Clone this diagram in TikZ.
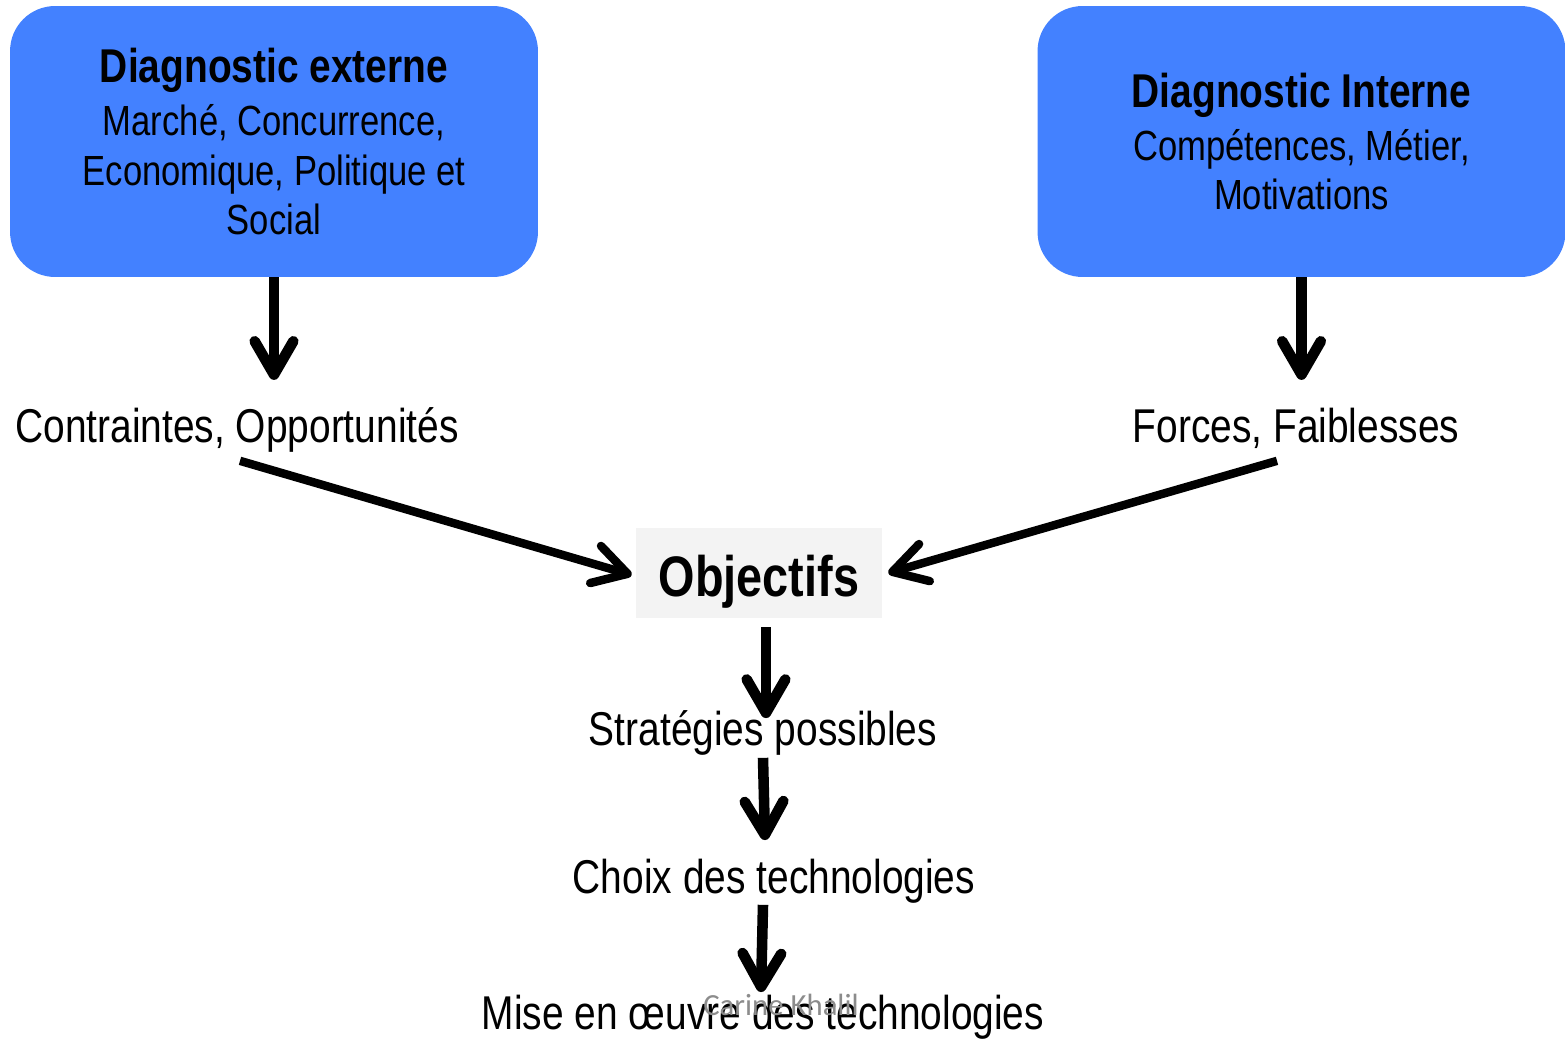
\documentclass[tikz,border=0pt]{standalone}
\usepackage{fontspec}
\setmainfont[FakeStretch=0.82]{Liberation Sans}
\newfontfamily\signfont{Carlito}
\usetikzlibrary{positioning,arrows.meta}
\definecolor{diagblue}{RGB}{67,129,255}
\definecolor{objgray}{RGB}{243,243,243}
\newcommand{\boxtitle}[1]{{\fontsize{27}{30}\selectfont\bfseries #1}}
\tikzset{ %1 unit = 1 pixel of the reference
  >={Straight Barb[length=19pt,width=22pt,round]},
  diag/.style={rectangle,rounded corners=0.9cm,fill=diagblue,
    minimum width=10.56cm,minimum height=5.42cm,align=center,
    font=\fontsize{24}{28.3}\selectfont},
  etape/.style={inner sep=0pt,anchor=base,text height=20.25pt,
    text depth=5.4pt,font=\fontsize{27}{30}\selectfont},
  objbox/.style={fill=objgray,minimum width=4.92cm,minimum height=1.8cm,
    text height=27.3pt,text depth=0pt,
    font=\fontsize{32.5}{36}\selectfont\bfseries},
  {dedge/.style} ={draw,->,line width=6pt},
  {sedge/.style} ={draw,->,line width=4.8pt},
 }
\begin{document}
\begin{tikzpicture}[x=0.02cm,y=-0.02cm]
        \useasboundingbox (0,0) rectangle (1565,1038);
        \node[diag] (ext) at (274,141.5) {\boxtitle{Diagnostic externe}\\[2pt]
                Marché, Concurrence,\\ Economique, Politique et\\ Social};
        \node[diag] (int) at (1301.5,141.5) {\boxtitle{Diagnostic Interne}\\[2pt]
                Compétences, Métier,\\ Motivations};
        \node[etape] (contr) at (237,442) {Contraintes, Opportunités};
        \node[etape] (forces) at (1296,442) {Forces, Faiblesses};
        \node[objbox] (obj) at (759,573) {Objectifs};
        \node[etape] (strat) at (763,745) {Stratégies possibles};
        \node[etape] (choix) at (774,893) {Choix des technologies};
        \node[etape] (mise) at (763,1029) {Mise en œuvre des technologies};
        \path[dedge,shorten >=14.9pt] (ext.south) -- (ext.south |- contr.north);
        \path[dedge,shorten >=14.9pt] (int.south) -- (int.south |- forces.north);
        \path[sedge] ([shift={(3,9)}]contr.south) -- ([shift={(-4,2)}]obj.west);
        \path[sedge] ([shift={(-19,9)}]forces.south) -- ([shift={(6,0)}]obj.east);
        \path[dedge] ([shift={(7,9)}]obj.south) -- ([shift={(3,9)}]strat.north);
        \path[dedge] ([shift={(0,3)}]strat.south) -- ([shift={(-9,-17)}]choix.north);
        \path[dedge] ([shift={(-11,2)}]choix.south) -- ([shift={(-2,-1)}]mise.north);
        %\node (wm) below=of choix {Carine Khalil};
        \node[text=black!45,anchor=base,font=\signfont\fontsize{17.5}{20}\selectfont]
                (wm) at (781,1015) {Carine Khalil};
\end{tikzpicture}
\end{document}
